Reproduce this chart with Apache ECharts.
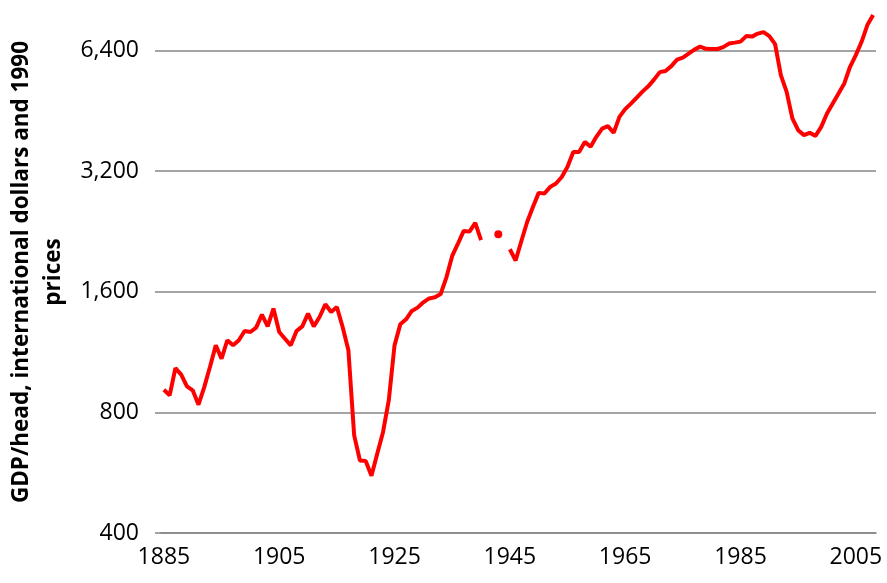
<!DOCTYPE html>
<html>
<head>
<meta charset="utf-8">
<script src="https://cdn.jsdelivr.net/npm/echarts@6/dist/echarts.min.js"></script>
<style>
  html, body { margin: 0; padding: 0; background: #fff; }
  #chartLineBox { width: 887px; height: 583px; }
</style>
</head>
<body>
<div id="chartLineBox"></div>
<script>
// years on the category axis
var firstYear = 1885;
var lastYear = 2008;
var years = [];
for (var y = firstYear; y <= lastYear; y++) years.push(String(y));

// GDP per head, 1990 international dollars, null = no data
var gdp = [
  911, 882, 1032, 994, 929, 908, 836, 925, 1040, 1176,      // 1885-1894
  1090, 1211, 1176, 1211, 1277, 1270, 1302, 1403, 1312, 1453, // 1895-1904
  1270, 1222, 1176, 1277, 1312, 1411, 1312, 1384, 1489, 1425, // 1905-1914
  1466, 1307, 1143, 701, 607, 605, 556, 631, 714, 857,        // 1915-1924
  1176, 1327, 1366, 1433, 1461, 1506, 1540, 1550, 1580, 1739, // 1925-1934
  1966, 2111, 2270, 2261, 2377, 2152, null, null, 2227, null, // 1935-1944
  2043, 1915, 2143, 2390, 2606, 2825, 2815, 2924, 2982, 3095, // 1945-1954
  3284, 3575, 3575, 3787, 3681, 3899, 4087, 4145, 3990, 4374, // 1955-1964
  4573, 4719, 4884, 5055, 5212, 5416, 5656, 5689, 5854, 6076, // 1965-1974
  6147, 6289, 6436, 6548, 6467, 6455, 6460, 6530, 6663, 6700, // 1975-1984
  6739, 6956, 6936, 7057, 7119, 6956, 6644, 5560, 5050, 4333, // 1985-1994
  4051, 3937, 3990, 3920, 4128, 4460, 4724, 5004, 5300, 5832, // 1995-2004
  6237, 6732, 7411, 7850                                      // 2005-2008
];
// the lone year drawn as a dot
var dotYear = 1943;

// log2 axis: bottom and top values, labels at each doubling
var yBottom = 400;
var yTop = 8560;
var yTicks = [400, 800, 1600, 3200, 6400];

var chartLine = echarts.init(document.getElementById("chartLineBox"));

var seriesData = gdp.map(function (v, i) {
  if (v == null) return null;
  var p = Math.log(v / yBottom) / Math.LN2;
  if (years[i] === String(dotYear)) {
    return { value: p, symbol: "circle", symbolSize: 8 };
  }
  return p;
});

var option = {
  animation: false,
  grid: {
    left: 161,
    right: 11,
    top: 0,
    bottom: 50,
    containLabel: false,
    outerBoundsMode: "none"
  },
  xAxis: {
    type: "category",
    data: years,
    boundaryGap: true,
    axisLine: { lineStyle: { color: "#868686", width: 1.5 } },
    axisTick: {
      interval: 4,
      length: 6,
      lineStyle: { color: "#868686", width: 1.5 }
    },
    axisLabel: {
      interval: 19,
      margin: 13,
      color: "#000",
      fontFamily: "Open Sans",
      fontSize: 23
    },
    splitLine: { show: false }
  },
  yAxis: {
    type: "value",
    min: 0,
    max: Math.log(yTop / yBottom) / Math.LN2,
    interval: 1,
    name: "GDP/head, international dollars and 1990\nprices",
    nameLocation: "middle",
    nameGap: 90,
    nameTextStyle: {
      color: "#000",
      fontFamily: "Open Sans",
      fontWeight: "bold",
      fontSize: 22.5,
      lineHeight: 32,
      padding: [0, 11, 0, 0]
    },
    axisLine: { show: false },
    axisTick: {
      show: true,
      length: 6,
      lineStyle: { color: "#868686", width: 1.5 }
    },
    axisLabel: {
      margin: 22,
      color: "#000",
      fontFamily: "Open Sans",
      fontSize: 23,
      showMaxLabel: false,
      formatter: function (v) {
        var k = Math.round(v);
        if (Math.abs(v - k) > 1e-6 || k < 0 || k >= yTicks.length) return "";
        return yTicks[k].toLocaleString("en-US");
      }
    },
    splitLine: {
      show: true,
      showMaxLine: false,
      lineStyle: { color: "#868686", width: 1.5 }
    }
  },
  series: [
    {
      name: "GDP/head",
      type: "line",
      data: seriesData,
      connectNulls: false,
      showSymbol: true,
      showAllSymbol: true,
      symbol: "none",
      itemStyle: { color: "#ff0000" },
      lineStyle: { color: "#ff0000", width: 4 }
    }
  ]
};

chartLine.setOption(option);
</script>
</body>
</html>
